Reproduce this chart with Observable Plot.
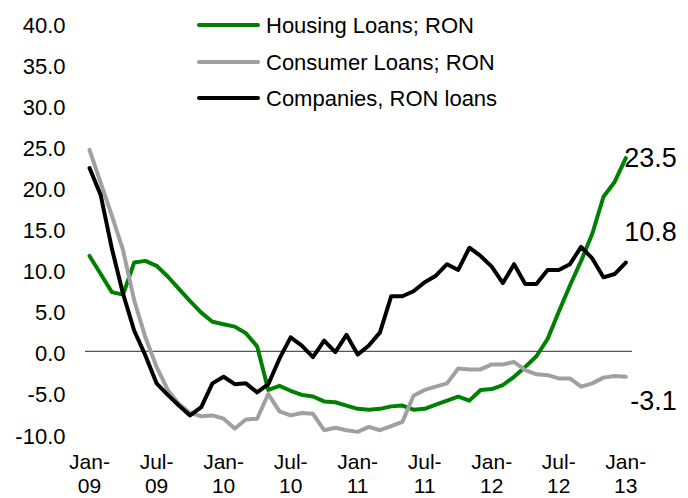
<!DOCTYPE html>
<html><head><meta charset="utf-8">
<script src="https://cdn.jsdelivr.net/npm/d3@7"></script>
<script src="https://cdn.jsdelivr.net/npm/@observablehq/plot@0.6"></script>
<style>
body{margin:0;background:#fff;font-family:"Liberation Sans",Arial,sans-serif}
#wrap{position:relative;width:688px;height:498px}
#legend{position:absolute;left:197px;top:8px}
.row{display:flex;align-items:center;height:36.5px;font-size:22px;color:#000;white-space:nowrap}
.sw{width:63px;height:4px;border-radius:2px;margin-right:6px;position:relative;top:-1px}
</style></head><body><div id="wrap"><div id="legend"></div></div>
<script>
const seriesNames = ["Housing Loans; RON", "Consumer Loans; RON", "Companies, RON loans"];
const seriesColors = ["#008000", "#a0a0a0", "#000000"];
const housing = [11.6, 9.4, 7.2, 6.9, 10.8, 11.0, 10.4, 9.1, 7.6, 6.1, 4.7, 3.6, 3.3, 3.0, 2.2, 0.6, -4.7, -4.2, -4.8, -5.3, -5.5, -6.1, -6.2, -6.6, -7.0, -7.1, -7.0, -6.7, -6.6, -7.1, -7.0, -6.5, -6.0, -5.5, -6.0, -4.7, -4.6, -4.1, -3.1, -1.9, -0.6, 1.5, 4.8, 8.0, 11.0, 14.3, 18.8, 20.6, 23.5];
const consumer = [24.5, 20.5, 16.5, 12.3, 6.2, 1.7, -1.9, -4.7, -6.4, -7.5, -7.9, -7.8, -8.2, -9.4, -8.3, -8.2, -5.2, -7.3, -7.8, -7.5, -7.6, -9.6, -9.3, -9.6, -9.8, -9.2, -9.6, -9.1, -8.6, -5.4, -4.7, -4.3, -3.9, -2.1, -2.2, -2.2, -1.6, -1.6, -1.3, -2.3, -2.8, -2.9, -3.3, -3.3, -4.3, -3.9, -3.2, -3.0, -3.1];
const companies = [22.3, 19.0, 12.5, 7.0, 2.5, -0.5, -3.9, -5.3, -6.6, -7.8, -6.8, -3.9, -3.1, -4.0, -3.9, -5.0, -4.0, -0.9, 1.7, 0.7, -0.7, 1.3, -0.1, 2.0, -0.4, 0.7, 2.3, 6.7, 6.7, 7.3, 8.4, 9.2, 10.6, 9.9, 12.6, 11.6, 10.3, 8.3, 10.6, 8.2, 8.2, 9.9, 9.9, 10.6, 12.7, 11.3, 9.0, 9.4, 10.8];
const xTickIdx = [0, 6, 12, 18, 24, 30, 36, 42, 48];
const xTickLabels = ["Jan-\n09", "Jul-\n09", "Jan-\n10", "Jul-\n10", "Jan-\n11", "Jul-\n11", "Jan-\n12", "Jul-\n12", "Jan-\n13"];
const yTicks = [-10, -5, 0, 5, 10, 15, 20, 25, 30, 35, 40];

const seriesValues = [housing, consumer, companies];
const table = [];
seriesValues.forEach((vals, s) => vals.forEach((v, i) => table.push({series: seriesNames[s], i, v})));
const endOffsets = [0, 25, -30];

const endMarks = seriesValues.map((vals, s) =>
  Plot.text([{i: vals.length - 1, v: vals[vals.length - 1]}], {
    x: "i", y: "v", text: d => d.v.toFixed(1),
    textAnchor: "end", dx: 51, dy: endOffsets[s], fontSize: 27, fill: "#000"
  })
);

const chart = Plot.plot({
  width: 688, height: 498,
  marginLeft: 85, marginRight: 56, marginTop: 22, marginBottom: 65,
  style: {fontFamily: "'Liberation Sans', Arial, sans-serif", fontSize: "22px", color: "#000", background: "#fff", overflow: "visible"},
  x: {domain: [-0.36, 48.6], axis: null},
  y: {domain: [-10, 40], axis: null},
  color: {domain: seriesNames, range: seriesColors},
  marks: [
    Plot.axisY({ticks: yTicks, tickFormat: d => d.toFixed(1), tickSize: 0, tickPadding: 20, fontSize: 22, dy: 3, label: null}),
    Plot.axisX({ticks: xTickIdx, tickFormat: d => xTickLabels[xTickIdx.indexOf(d)], tickSize: 0, tickPadding: 19, fontSize: 21, lineHeight: 1.12, label: null}),
    Plot.ruleY([0], {stroke: "#555", strokeWidth: 1.2}),
    Plot.line(table, {x: "i", y: "v", z: "series", stroke: "series", strokeWidth: 4, strokeLinejoin: "round", strokeLinecap: "round"}),
    ...endMarks
  ]
});
document.getElementById("wrap").prepend(chart);

const legend = document.getElementById("legend");
seriesNames.forEach((n, s) => {
  const row = document.createElement("div");
  row.className = "row";
  const sw = document.createElement("span");
  sw.className = "sw";
  sw.style.background = seriesColors[s];
  const t = document.createElement("span");
  t.textContent = n;
  row.append(sw, t);
  legend.append(row);
});
</script>
</body></html>
